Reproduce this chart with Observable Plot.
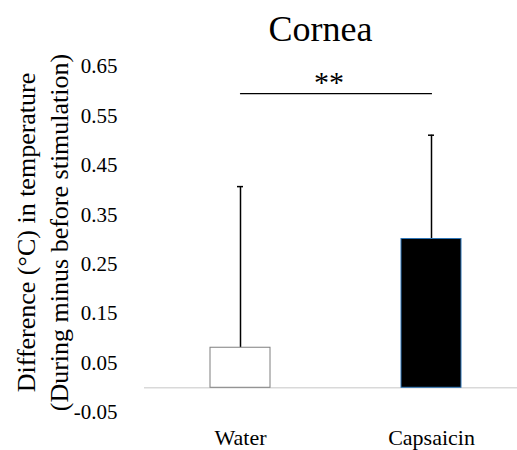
<!DOCTYPE html>
<html>
<head>
<meta charset="utf-8">
<script src="https://cdn.jsdelivr.net/npm/d3@7"></script>
<script src="https://cdn.jsdelivr.net/npm/@observablehq/plot@0.6"></script>
<style>
  html, body { margin: 0; padding: 0; background: white; }
  #chart svg, #chart svg text, #chart svg tspan { font-family: "Liberation Serif", "Times New Roman", serif !important; }
</style>
</head>
<body>
<div id="chart"></div>
<script>
const categories = ["Water", "Capsaicin"];
const means = [0.081, 0.301];
const errors = [0.326, 0.210];
const fills = ["white", "black"];
const strokes = ["#7f7f7f", "#2e75b6"];
const yTicks = [-0.05, 0.05, 0.15, 0.25, 0.35, 0.45, 0.55, 0.65];
const titleText = "Cornea";
const yLabel = "Difference (°C) in temperature\n(During minus before stimulation)";
const sigPair = ["Water", "Capsaicin"];
const sigLineY = 0.595;
const sigLabel = "**";
const sigLabelY = 0.618;

const serif = "Liberation Serif";
const data = categories.map((c, i) => ({cat: c, mean: means[i], err: errors[i], fill: fills[i], stroke: strokes[i]}));
const sigLine = sigPair.map(c => ({cat: c, y: sigLineY}));

const chart = Plot.plot({
  width: 517,
  height: 450,
  marginLeft: 144,
  marginRight: 0,
  marginTop: 66,
  marginBottom: 38,
  style: {fontFamily: serif, color: "black", background: "white"},
  x: {domain: categories, range: [144, 527], paddingInner: 0.6867, paddingOuter: 0.3433, label: null},
  y: {domain: [-0.05, 0.65], label: null},
  marks: [
    Plot.ruleY([0], {stroke: "#d9d9d9", strokeWidth: 1.5}),
    Plot.ruleX(data, {x: "cat", y1: "mean", y2: d => d.mean + d.err, stroke: "black", strokeWidth: 1.5}),
    Plot.tickY(data, {x: "cat", y: d => d.mean + d.err, stroke: "black", strokeWidth: 1.5, insetLeft: 27, insetRight: 27}),
    Plot.barY(data, {x: "cat", y: "mean", fill: d => d.fill, stroke: d => d.stroke, strokeWidth: 1}),
    Plot.line(sigLine, {x: "cat", y: "y", stroke: "black", strokeWidth: 1.2}),
    Plot.text([sigLabel], {frameAnchor: "top", lineAnchor: "middle", text: d => d, y: () => sigLabelY, fontSize: 30, fontFamily: serif, dx: -2}),
    Plot.axisY({ticks: yTicks, tickSize: 0, tickPadding: 27, fontSize: 21, fontFamily: serif, tickFormat: d => d.toFixed(2), label: null}),
    Plot.axisX({tickSize: 0, tickPadding: 17, fontSize: 22, fontFamily: serif, label: null}),
    Plot.text([titleText], {frameAnchor: "top", lineAnchor: "middle", text: d => d, fontSize: 36, fontFamily: serif, textAnchor: "middle", dx: -10.5, dy: -37.5}),
    Plot.text([yLabel], {frameAnchor: "left", lineAnchor: "middle", text: d => d, fontSize: 26, fontFamily: serif, textAnchor: "middle", rotate: -90, lineHeight: 1.28, dx: -104, dy: -7})
  ]
});
document.getElementById("chart").appendChild(chart);
</script>
</body>
</html>
